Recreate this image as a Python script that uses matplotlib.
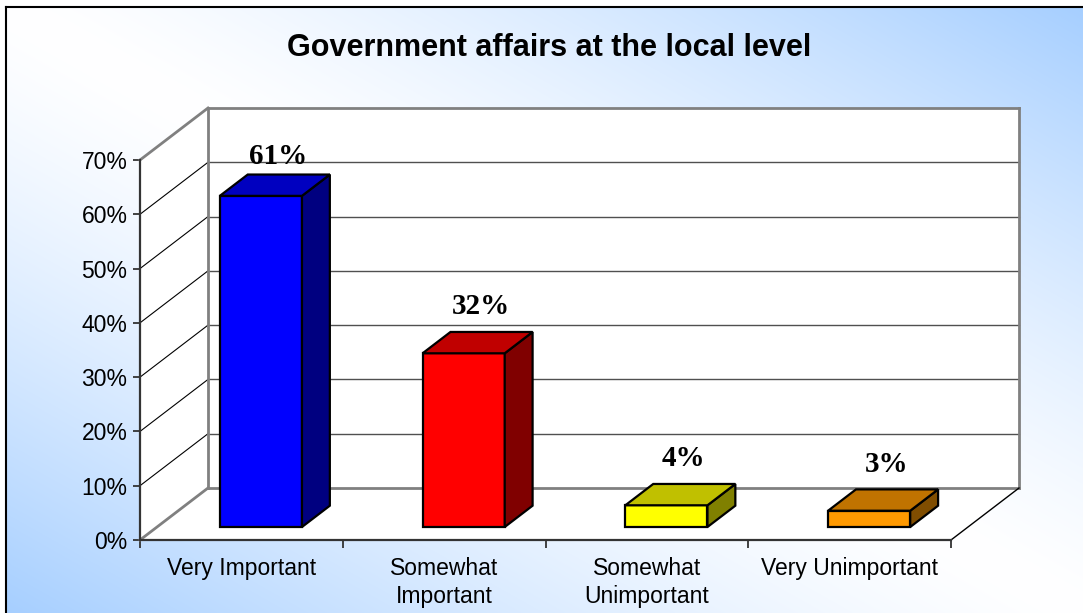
import numpy as np
import matplotlib
matplotlib.use('Agg')
import matplotlib.pyplot as plt
from matplotlib.patches import Polygon
from matplotlib.lines import Line2D

categories = ['Very Important', 'Somewhat\nImportant', 'Somewhat\nUnimportant', 'Very Unimportant']
values = [61, 32, 4, 3]
labels = ['61%', '32%', '4%', '3%']
yticks = [0, 10, 20, 30, 40, 50, 60, 70]

# face colours per bar: front, top, side
front_cols = ['#0000ff', '#ff0000', '#ffff00', '#ff9900']
top_cols = ['#0000c0', '#c00000', '#c0c000', '#c07300']
side_cols = ['#000080', '#800000', '#808000', '#804d00']

W, H = 1083, 613
fig = plt.figure(figsize=(W / 100, H / 100), dpi=100)

# gradient backdrop, white along the main diagonal, blue towards the other corners
bg = fig.add_axes([0, 0, 1, 1])
bg.set_xlim(0, W); bg.set_ylim(H, 0); bg.axis('off')
px, py = np.meshgrid(np.arange(W), np.arange(H))
t = np.clip(np.abs((px - 6) / (W - 6) - (py - 7) / (H - 7)), 0, 1) ** 1.35
blue = np.array([0.65, 0.81, 1.0])
img = 1 - t[..., None] * (1 - blue)
img[:7, :, :] = 1
img[:, :6, :] = 1
bg.imshow(img, extent=[0, W, H, 0], interpolation='bilinear', aspect='auto')
bg.add_line(Line2D([6, 6], [7, H], color='black', lw=1.5))
bg.add_line(Line2D([6, W], [7, 7], color='black', lw=1.5))

fig.text(549 / W, 1 - 48 / H, 'Government affairs at the local level',
         ha='center', va='center', fontsize=22, fontweight='bold',
         family='Liberation Sans')

# front plane of the plot box
x0, y0, x1, y1 = 140, 540, 951, 160
ax = fig.add_axes([x0 / W, 1 - y0 / H, (x1 - x0) / W, (y0 - y1) / H])
ax.patch.set_alpha(0)
n = len(categories)
ymax = 70
ax.set_xlim(0, n)
ax.set_ylim(0, ymax)

# oblique depth vector in data units
DX = 68 / ((x1 - x0) / n)
DY = 52 / ((y0 - y1) / ymax)


def proj(x, y, d):
    return (x + d * DX, y + d * DY)


def poly(pts, fc, ec='none', lw=0, z=1):
    ax.add_patch(Polygon(pts, closed=True, facecolor=fc, edgecolor=ec,
                         linewidth=lw, zorder=z, clip_on=False, joinstyle='miter'))


def seg(p, q, color, lw, z=2):
    ax.add_line(Line2D([p[0], q[0]], [p[1], q[1]], color=color, lw=lw,
                       zorder=z, clip_on=False))


# walls and floor
poly([proj(0, 0, 0), proj(0, ymax, 0), proj(0, ymax, 1), proj(0, 0, 1)], 'white')
poly([proj(0, 0, 1), proj(n, 0, 1), proj(n, ymax, 1), proj(0, ymax, 1)], 'white')
poly([proj(0, 0, 0), proj(n, 0, 0), proj(n, 0, 1), proj(0, 0, 1)], 'white')

for v in yticks[1:-1]:
    seg(proj(0, v, 0), proj(0, v, 1), 'black', 0.8)
    seg(proj(0, v, 1), proj(n, v, 1), '#505050', 1.0)

gray = '#808080'
seg(proj(0, 0, 0), proj(0, 0, 1), gray, 2)
seg(proj(0, ymax, 0), proj(0, ymax, 1), gray, 2)
seg(proj(0, 0, 1), proj(0, ymax, 1), gray, 2)
seg(proj(0, ymax, 1), proj(n, ymax, 1), gray, 2)
seg(proj(n, ymax, 1), proj(n, 0, 1), gray, 2)
seg(proj(0, 0, 1), proj(n, 0, 1), gray, 2)
seg(proj(n, 0, 0), proj(n, 0, 1), 'black', 1.0)

# 3-D bars
d0, d1 = 0.25, 0.66
for i, v in enumerate(values):
    xl, xr = i + 0.31, i + 0.715
    poly([proj(xl, 0, d0), proj(xr, 0, d0), proj(xr, v, d0), proj(xl, v, d0)],
         front_cols[i], 'black', 1.6, 3)
    poly([proj(xr, 0, d0), proj(xr, 0, d1), proj(xr, v, d1), proj(xr, v, d0)],
         side_cols[i], 'black', 1.6, 3)
    poly([proj(xl, v, d0), proj(xr, v, d0), proj(xr, v, d1), proj(xl, v, d1)],
         top_cols[i], 'black', 1.6, 3)
    lx, ly = proj((xl + xr) / 2, v, d1)
    ly = min(ly + 4.6, 70.7)
    ax.text(lx - 0.5 * DX * (d1 - d0) + 0.015, ly, labels[i], ha='center', va='center',
            fontsize=21, fontweight='bold', family='Liberation Serif', zorder=5)

# axes
for side in ['top', 'right']:
    ax.spines[side].set_visible(False)
for side in ['left', 'bottom']:
    ax.spines[side].set_color('#333333')
    ax.spines[side].set_linewidth(1.6)
    ax.spines[side].set_zorder(4)

ax.set_yticks(yticks)
ax.set_yticklabels([f'{v}%' for v in yticks])
ax.set_xticks(range(n + 1))
ax.set_xticklabels([])
ax.set_xticks([i + 0.5 for i in range(n)], minor=True)
ax.set_xticklabels(categories, minor=True, linespacing=1.28)
ax.tick_params(axis='y', direction='out', length=5, width=1.3, color='#333333',
               pad=4.0, labelsize=16.5)
ax.tick_params(axis='x', which='major', direction='out', length=6, width=1.3,
               color='#333333')
ax.tick_params(axis='x', which='minor', length=0, pad=12.5, labelsize=16.5)
for lab in ax.get_yticklabels() + ax.get_xticklabels(minor=True):
    lab.set_family('Liberation Sans')

fig.savefig('out.png', dpi=100)
